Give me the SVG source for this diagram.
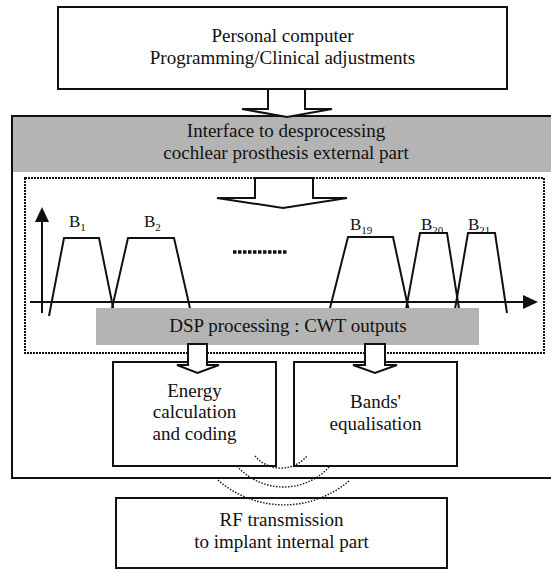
<svg xmlns="http://www.w3.org/2000/svg" width="551" height="571" viewBox="0 0 551 571" font-family="'Liberation Serif', 'DejaVu Serif', serif">
<style>
  text { font-family: "Liberation Serif", "DejaVu Serif", serif; font-size: 19px; fill: #111; text-anchor: middle; }
  .lbl { font-size: 17px; text-anchor: start; }
  .sub { font-size: 11px; }
  .box { fill: #fff; stroke: #111; stroke-width: 2; }
  .gray { fill: #b4b4b4; stroke: none; }
  .ln { fill: none; stroke: #111; stroke-width: 2; stroke-linejoin: miter; }
  .dotbox { fill: none; stroke: #111; stroke-width: 2; stroke-dasharray: 2 1; }
  .arc { fill: none; stroke: #111; stroke-width: 1.4; stroke-dasharray: 1.5 1.5; }
  .hollow { fill: #fff; stroke: #111; stroke-width: 2; stroke-linejoin: miter; }
</style>

<g id="external-part">
  <rect x="12" y="116" width="545" height="56" class="gray"/>
  <rect x="12" y="116" width="545" height="362" fill="none" stroke="#111" stroke-width="2"/>
  <text x="286" y="137">Interface to desprocessing</text>
  <text x="286" y="159">cochlear prosthesis external part</text>
</g>

<g id="dsp-region">
  <rect x="25" y="178" width="519" height="175" class="dotbox"/>
</g>

<g id="filterbank">
  <line x1="42" y1="313" x2="42" y2="221" class="ln"/>
  <polygon points="35,222 42,207 49,222" fill="#111"/>
  <line x1="30" y1="302" x2="524" y2="302" class="ln"/>
  <polygon points="523,295 538,302 523,309" fill="#111"/>
  <polyline points="49,316 64,238 99,238 115,317" class="ln"/>
  <polyline points="110,317 128,238 174,238 192,317" class="ln"/>
  <polyline points="328,316 348,237 393,237 410,316" class="ln"/>
  <polyline points="405,315 420,233 447,233 460,315" class="ln"/>
  <polyline points="454,315 468,233 495,233 507,313" class="ln"/>
  <line x1="233" y1="252" x2="287" y2="252" stroke="#111" stroke-width="3.5" stroke-dasharray="3.5 1.5"/>
  <text class="lbl" x="69" y="227">B<tspan class="sub" dy="4">1</tspan></text>
  <text class="lbl" x="144" y="227">B<tspan class="sub" dy="4">2</tspan></text>
  <text class="lbl" x="350" y="230">B<tspan class="sub" dy="4">19</tspan></text>
  <text class="lbl" x="421" y="230">B<tspan class="sub" dy="4">20</tspan></text>
  <text class="lbl" x="468" y="230">B<tspan class="sub" dy="4">21</tspan></text>
</g>

<g id="dsp">
  <rect x="96" y="308" width="383" height="37" class="gray"/>
  <text x="288" y="332">DSP processing : CWT outputs</text>
</g>

<g id="pc">
  <rect x="58" y="7" width="449" height="82" class="box"/>
  <text x="282.5" y="42">Personal computer</text>
  <text x="282.5" y="64">Programming/Clinical adjustments</text>
</g>

<g id="energy">
  <rect x="113" y="362" width="163" height="104" class="box"/>
  <text x="194.5" y="397">Energy</text>
  <text x="194.5" y="418">calculation</text>
  <text x="194.5" y="440">and coding</text>
</g>

<g id="bands">
  <rect x="294" y="362" width="163" height="104" class="box"/>
  <text x="375.5" y="408">Bands'</text>
  <text x="375.5" y="430">equalisation</text>
</g>

<g id="rf">
  <rect x="116" y="498" width="331" height="70" class="box"/>
  <text x="281.5" y="526">RF transmission</text>
  <text x="281.5" y="548">to implant internal part</text>
</g>

<g id="connectors">
  <polygon points="268,89 268,109 242,109 287,117 332,109 305,109 305,89" class="hollow"/>
  <polygon points="255,178 255,198 217,198 283,208 347,198 313,198 313,178" class="hollow"/>
  <polygon points="188,344 188,365 177,365 197.5,373 219,365 207,365 207,344" class="hollow"/>
  <polygon points="365,344 365,365 353,365 375,373 397,365 385,365 385,344" class="hollow"/>
  <path d="M255,456 A34,34 0 0 0 307,456" class="arc"/>
  <path d="M237,466 A62,62 0 0 0 330,466" class="arc"/>
  <path d="M218,480 A100,100 0 0 0 350,480" class="arc"/>
</g>
</svg>
